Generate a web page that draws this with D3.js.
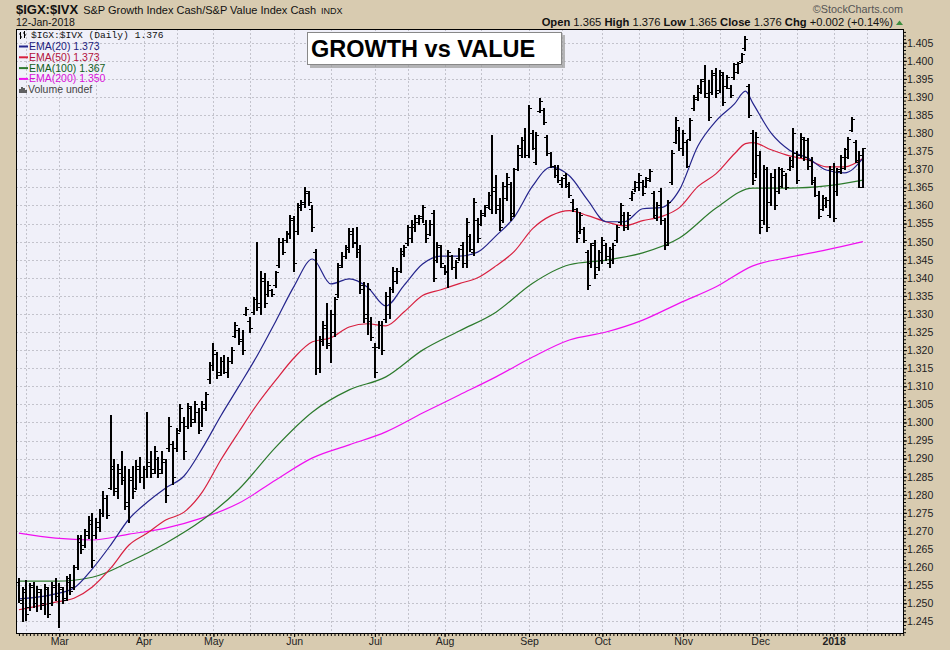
<!DOCTYPE html>
<html><head><meta charset="utf-8">
<script src="https://cdn.jsdelivr.net/npm/d3@7"></script>
<style>
html,body{margin:0;padding:0;background:#d8cbb0;}
svg{display:block;font-family:"Liberation Sans",Arial,sans-serif;}
</style></head><body>
<svg id="c" width="950" height="650"></svg>
<script>
// ---------- DATA ----------
const monthIdx = [11,34,53,75,97,116,139,159,181,202,222];
const monthLabels = ["Mar","Apr","May","Jun","Jul","Aug","Sep","Oct","Nov","Dec","2018"];
const midMonthIdx = [2,21,43,63,85,106,126,148,169,191,212,231];
const yTickLabels = ["1.245","1.250","1.255","1.260","1.265","1.270","1.275","1.280","1.285","1.290","1.295","1.300","1.305","1.310","1.315","1.320","1.325","1.330","1.335","1.340","1.345","1.350","1.355","1.360","1.365","1.370","1.375","1.380","1.385","1.390","1.395","1.400","1.405"];

const highs = [1.2570,1.2545,1.2565,1.2555,1.2560,1.2548,1.2540,1.2552,1.2545,1.2560,
1.2570,1.2555,1.2545,1.2575,1.2580,1.2605,1.2690,1.2690,1.2705,1.2740,
1.2750,1.2735,1.2760,1.2810,1.2800,1.3020,1.2900,1.2885,1.2920,1.2880,
1.2870,1.2880,1.2895,1.2905,1.2880,1.3030,1.2920,1.2935,1.2905,1.2920,
1.2900,1.3015,1.2950,1.2985,1.3050,1.3015,1.3055,1.3045,1.3060,1.3040,
1.3060,1.3085,1.3167,1.3220,1.3195,1.3180,1.3186,1.3180,1.3208,1.3277,
1.3260,1.3255,1.3318,1.3291,1.3347,1.3500,1.3420,1.3413,1.3390,1.3370,
1.3420,1.3510,1.3510,1.3530,1.3573,1.3570,1.3607,1.3615,1.3650,1.3640,
1.3600,1.3480,1.3240,1.3280,1.3330,1.3310,1.3347,1.3440,1.3470,1.3490,
1.3538,1.3538,1.3540,1.3490,1.3388,1.3385,1.3292,1.3220,1.3280,1.3280,
1.3360,1.3375,1.3430,1.3427,1.3482,1.3490,1.3545,1.3560,1.3573,1.3573,
1.3600,1.3560,1.3560,1.3587,1.3500,1.3490,1.3435,1.3477,1.3463,1.3450,
1.3482,1.3500,1.3565,1.3520,1.3622,1.3565,1.3587,1.3600,1.3637,1.3795,
1.3685,1.3620,1.3665,1.3690,1.3665,1.3705,1.3767,1.3790,1.3815,1.3878,
1.3810,1.3803,1.3897,1.3870,1.3795,1.3748,1.3712,1.3712,1.3680,1.3690,
1.3665,1.3617,1.3593,1.3582,1.3540,1.3477,1.3496,1.3505,1.3477,1.3513,
1.3496,1.3485,1.3496,1.3545,1.3607,1.3582,1.3582,1.3640,1.3668,1.3690,
1.3670,1.3678,1.3700,1.3640,1.3609,1.3649,1.3565,1.3615,1.3753,1.3844,
1.3817,1.3810,1.3780,1.3842,1.3905,1.3933,1.3950,1.3988,1.3947,1.3975,
1.3980,1.3975,1.3970,1.3961,1.3933,1.3994,1.3998,1.4022,1.4070,1.3935,
1.3808,1.3803,1.3750,1.3711,1.3707,1.3690,1.3700,1.3707,1.3703,1.3690,
1.3733,1.3815,1.3750,1.3800,1.3790,1.3786,1.3733,1.3678,1.3640,1.3629,
1.3623,1.3710,1.3717,1.3705,1.3740,1.3760,1.3790,1.3845,1.3780,1.3750,
1.3760];

const lows = [1.2503,1.2452,1.2455,1.2480,1.2490,1.2478,1.2485,1.2470,1.2462,1.2495,
1.2510,1.2435,1.2500,1.2510,1.2525,1.2540,1.2595,1.2640,1.2655,1.2680,
1.2600,1.2680,1.2700,1.2740,1.2735,1.2815,1.2800,1.2790,1.2830,1.2760,
1.2725,1.2790,1.2815,1.2835,1.2820,1.2850,1.2850,1.2860,1.2850,1.2860,
1.2780,1.2920,1.2830,1.2920,1.2975,1.2900,1.2985,1.2990,1.3000,1.2970,
1.2990,1.3035,1.3110,1.3145,1.3123,1.3130,1.3137,1.3125,1.3164,1.3235,
1.3218,1.3190,1.3296,1.3250,1.3300,1.3310,1.3300,1.3319,1.3350,1.3350,
1.3375,1.3430,1.3465,1.3500,1.3510,1.3420,1.3520,1.3587,1.3595,1.3600,
1.3530,1.3135,1.3140,1.3215,1.3205,1.3167,1.3240,1.3347,1.3430,1.3455,
1.3470,1.3485,1.3457,1.3357,1.3278,1.3245,1.3228,1.3125,1.3205,1.3190,
1.3277,1.3288,1.3360,1.3385,1.3416,1.3460,1.3490,1.3500,1.3530,1.3550,
1.3555,1.3500,1.3517,1.3390,1.3445,1.3430,1.3410,1.3375,1.3425,1.3400,
1.3450,1.3430,1.3430,1.3475,1.3463,1.3500,1.3545,1.3570,1.3593,1.3578,
1.3578,1.3532,1.3555,1.3615,1.3560,1.3570,1.3698,1.3735,1.3733,1.3733,
1.3755,1.3715,1.3858,1.3825,1.3740,1.3706,1.3678,1.3665,1.3650,1.3650,
1.3623,1.3584,1.3500,1.3525,1.3500,1.3370,1.3430,1.3400,1.3422,1.3441,
1.3450,1.3430,1.3441,1.3500,1.3550,1.3532,1.3535,1.3615,1.3640,1.3642,
1.3628,1.3650,1.3667,1.3568,1.3559,1.3550,1.3480,1.3490,1.3660,1.3772,
1.3753,1.3740,1.3706,1.3781,1.3863,1.3892,1.3910,1.3900,1.3836,1.3909,
1.3900,1.3914,1.3877,1.3925,1.3900,1.3950,1.3965,1.3997,1.4030,1.3845,
1.3660,1.3678,1.3525,1.3550,1.3530,1.3600,1.3590,1.3635,1.3650,1.3645,
1.3698,1.3707,1.3662,1.3735,1.3725,1.3700,1.3660,1.3625,1.3565,1.3587,
1.3595,1.3568,1.3558,1.3630,1.3690,1.3700,1.3730,1.3805,1.3720,1.3650,
1.3650];

const opens = [1.2560,1.2500,1.2540,1.2490,1.2550,1.2500,1.2530,1.2500,1.2540,1.2500,
1.2545,1.2520,1.2540,1.2515,1.2560,1.2545,1.2600,1.2670,1.2660,1.2690,
1.2720,1.2690,1.2710,1.2750,1.2790,1.2820,1.2880,1.2810,1.2860,1.2850,
1.2770,1.2840,1.2820,1.2870,1.2850,1.2870,1.2890,1.2870,1.2900,1.2870,
1.2890,1.2930,1.2940,1.2930,1.2980,1.3000,1.2990,1.3040,1.3010,1.3030,
1.3000,1.3040,1.3120,1.3160,1.3190,1.3140,1.3170,1.3140,1.3170,1.3240,
1.3255,1.3230,1.3300,1.3280,1.3305,1.3340,1.3330,1.3390,1.3355,1.3365,
1.3380,1.3435,1.3500,1.3505,1.3520,1.3560,1.3530,1.3595,1.3605,1.3635,
1.3590,1.3470,1.3150,1.3225,1.3260,1.3220,1.3250,1.3355,1.3435,1.3460,
1.3480,1.3520,1.3500,1.3480,1.3380,1.3300,1.3280,1.3210,1.3210,1.3270,
1.3285,1.3300,1.3370,1.3390,1.3420,1.3465,1.3495,1.3510,1.3540,1.3555,
1.3565,1.3550,1.3520,1.3580,1.3450,1.3485,1.3430,1.3420,1.3460,1.3430,
1.3455,1.3490,1.3440,1.3515,1.3470,1.3560,1.3550,1.3575,1.3600,1.3590,
1.3650,1.3600,1.3560,1.3620,1.3660,1.3580,1.3700,1.3740,1.3780,1.3740,
1.3800,1.3720,1.3860,1.3865,1.3790,1.3745,1.3710,1.3700,1.3660,1.3685,
1.3660,1.3610,1.3590,1.3530,1.3535,1.3470,1.3440,1.3495,1.3430,1.3450,
1.3490,1.3440,1.3450,1.3505,1.3555,1.3575,1.3540,1.3620,1.3645,1.3650,
1.3665,1.3655,1.3670,1.3635,1.3565,1.3640,1.3560,1.3500,1.3665,1.3775,
1.3810,1.3760,1.3775,1.3785,1.3870,1.3895,1.3915,1.3950,1.3900,1.3915,
1.3960,1.3920,1.3960,1.3930,1.3925,1.3955,1.3970,1.4000,1.4035,1.3930,
1.3800,1.3690,1.3740,1.3560,1.3700,1.3610,1.3680,1.3640,1.3655,1.3685,
1.3700,1.3710,1.3745,1.3740,1.3785,1.3780,1.3725,1.3670,1.3630,1.3590,
1.3600,1.3575,1.3700,1.3640,1.3695,1.3705,1.3735,1.3810,1.3775,1.3720,
1.3650];

const closes = [1.2510,1.2530,1.2470,1.2545,1.2500,1.2540,1.2495,1.2545,1.2470,1.2550,
1.2520,1.2545,1.2510,1.2570,1.2535,1.2600,1.2680,1.2650,1.2700,1.2730,
1.2620,1.2725,1.2750,1.2790,1.2745,1.2870,1.2820,1.2870,1.2840,1.2780,
1.2850,1.2810,1.2880,1.2850,1.2870,1.2880,1.2860,1.2920,1.2860,1.2900,
1.2800,1.2990,1.2850,1.2970,1.3040,1.2920,1.3045,1.3000,1.3050,1.2980,
1.3050,1.3080,1.3160,1.3200,1.3130,1.3170,1.3140,1.3170,1.3200,1.3270,
1.3225,1.3200,1.3315,1.3260,1.3340,1.3320,1.3400,1.3330,1.3380,1.3355,
1.3415,1.3500,1.3470,1.3525,1.3565,1.3440,1.3600,1.3610,1.3640,1.3610,
1.3540,1.3150,1.3230,1.3270,1.3215,1.3300,1.3340,1.3430,1.3460,1.3485,
1.3530,1.3495,1.3470,1.3370,1.3290,1.3370,1.3235,1.3140,1.3270,1.3200,
1.3350,1.3370,1.3420,1.3420,1.3475,1.3485,1.3540,1.3550,1.3565,1.3570,
1.3595,1.3510,1.3550,1.3400,1.3490,1.3440,1.3415,1.3470,1.3430,1.3445,
1.3480,1.3440,1.3555,1.3480,1.3610,1.3510,1.3580,1.3595,1.3630,1.3640,
1.3590,1.3540,1.3655,1.3680,1.3570,1.3700,1.3760,1.3780,1.3740,1.3870,
1.3760,1.3795,1.3890,1.3830,1.3745,1.3710,1.3685,1.3670,1.3675,1.3655,
1.3630,1.3590,1.3510,1.3575,1.3505,1.3380,1.3490,1.3410,1.3470,1.3505,
1.3460,1.3480,1.3490,1.3540,1.3600,1.3540,1.3575,1.3635,1.3665,1.3685,
1.3635,1.3675,1.3695,1.3575,1.3600,1.3560,1.3490,1.3610,1.3745,1.3835,
1.3760,1.3800,1.3710,1.3835,1.3900,1.3925,1.3945,1.3910,1.3845,1.3965,
1.3910,1.3970,1.3885,1.3955,1.3905,1.3990,1.3995,1.4020,1.4060,1.3850,
1.3670,1.3790,1.3540,1.3700,1.3540,1.3680,1.3600,1.3700,1.3695,1.3650,
1.3725,1.3800,1.3670,1.3790,1.3735,1.3710,1.3665,1.3630,1.3570,1.3620,
1.3615,1.3700,1.3565,1.3700,1.3735,1.3755,1.3785,1.3840,1.3725,1.3740,
1.3760];

// EMA readings (bar index -> value)
const emaIdxShort = [0,5,10,15,20,25,30,35,40,45,50,55,60,65,70,75,80,85,90,95,100,105,110,115,120,125,130,135,140,145,150,155,160,165,170,175,180,185,190,195,198,200,205,210,215,220,225,230];
const ema20 = [1.2512,1.2517,1.2526,1.2542,1.2595,1.2661,1.2733,1.2780,1.2819,1.2852,1.2929,1.3018,1.3101,1.3186,1.3280,1.3377,1.3452,1.3383,1.3397,1.3374,1.3322,1.3380,1.3438,1.3460,1.3460,1.3471,1.3516,1.3568,1.3654,1.3706,1.3682,1.3615,1.3555,1.3555,1.3591,1.3594,1.3643,1.3764,1.3834,1.3881,1.3916,1.3883,1.3800,1.3753,1.3731,1.3698,1.3690,1.3730];
const ema50 = [1.2482,1.2492,1.2503,1.2514,1.2545,1.2597,1.2661,1.2694,1.2730,1.2752,1.2808,1.2896,1.2975,1.3051,1.3117,1.3179,1.3223,1.3234,1.3264,1.3273,1.3267,1.3306,1.3351,1.3367,1.3384,1.3400,1.3433,1.3473,1.3536,1.3572,1.3586,1.3572,1.3555,1.3544,1.3558,1.3569,1.3594,1.3652,1.3688,1.3743,1.3771,1.3774,1.3754,1.3737,1.3726,1.3707,1.3707,1.3730];
const emaIdxLong = [0,10,20,30,40,50,60,70,80,90,100,110,120,130,140,150,160,170,180,190,200,210,220,230];
const ema100 = [1.2561,1.2561,1.2572,1.2614,1.2666,1.2730,1.2816,1.2932,1.3029,1.3090,1.3126,1.3200,1.3253,1.3305,1.3385,1.3436,1.3449,1.3469,1.3510,1.3593,1.3648,1.3648,1.3654,1.3670];
const ema200 = [1.2694,1.2680,1.2675,1.2691,1.2708,1.2736,1.2777,1.2841,1.2902,1.2938,1.2974,1.3026,1.3076,1.3126,1.3181,1.3228,1.3250,1.3283,1.3330,1.3375,1.3433,1.3457,1.3477,1.3500];

// ---------- CHART ----------
const W=950,H=650;
const P={l:16,t:29,r:904,b:634};
const n=highs.length;
const svg=d3.select('#c');
svg.append('rect').attr('width',W).attr('height',H).attr('fill','#d8cbb0');

const x=d3.scaleLinear().domain([-0.8,n-1+11.2]).range([P.l,P.r]);
const y=d3.scaleLinear().domain([1.2415,1.4088]).range([P.b,P.t]);
const yTicks=yTickLabels.map(Number);

svg.append('rect').attr('x',P.l).attr('y',P.t).attr('width',P.r-P.l).attr('height',P.b-P.t).attr('fill','#f0f0f9');

const grid=svg.append('g').attr('stroke','#c3c3cc').attr('stroke-width',1).attr('stroke-dasharray','2,2').attr('shape-rendering','crispEdges');
grid.selectAll('line.h').data(yTicks).join('line')
  .attr('x1',P.l).attr('x2',P.r).attr('y1',d=>Math.round(y(d))+0.5).attr('y2',d=>Math.round(y(d))+0.5);
grid.selectAll('line.v').data(monthIdx.concat(midMonthIdx)).join('line')
  .attr('y1',P.t).attr('y2',P.b).attr('x1',d=>Math.round(x(d))+0.5).attr('x2',d=>Math.round(x(d))+0.5);

// EMA lines
const lineFor=(idx)=>d3.line().x((d,i)=>x(idx[i])).y(d=>y(d)).curve(d3.curveMonotoneX);
const emaSpecs=[
  {vals:ema200,idx:emaIdxLong,color:'#f010f0'},
  {vals:ema100,idx:emaIdxLong,color:'#2c7a2c'},
  {vals:ema50,idx:emaIdxShort,color:'#d8203f'},
  {vals:ema20,idx:emaIdxShort,color:'#24248c'}
];
emaSpecs.forEach(s=>{
  svg.append('path').attr('d',lineFor(s.idx)(s.vals)).attr('fill','none').attr('stroke',s.color).attr('stroke-width',1.2);
});

// OHLC bars (pixel-snapped, crisp)
const bars=svg.append('g').attr('fill','#000').attr('shape-rendering','crispEdges');
const idx=d3.range(n);
const bx=i=>Math.round(x(i));
bars.selectAll('rect.hl').data(idx).join('rect')
  .attr('x',i=>bx(i)-1).attr('width',2)
  .attr('y',i=>Math.round(y(highs[i]))).attr('height',i=>Math.max(2,Math.round(y(lows[i]))-Math.round(y(highs[i]))+1));
bars.selectAll('rect.o').data(idx).join('rect')
  .attr('x',i=>bx(i)-3).attr('width',2).attr('y',i=>Math.round(y(opens[i]))).attr('height',1.4);
bars.selectAll('rect.c').data(idx).join('rect')
  .attr('x',i=>bx(i)+1).attr('width',2).attr('y',i=>Math.round(y(closes[i]))).attr('height',1.4);

// border
svg.append('rect').attr('x',P.l+0.5).attr('y',P.t+0.5).attr('width',P.r-P.l-1).attr('height',P.b-P.t-1)
  .attr('fill','none').attr('stroke','#000').attr('stroke-width',1);

// right axis
const minorY=d3.range(1.242,1.4085,0.001);
const ay2=svg.append('g').attr('transform',`translate(${P.r},0)`).call(d3.axisRight(y).tickValues(minorY).tickSize(2).tickFormat(''));
ay2.select('.domain').remove();
const ay=svg.append('g').attr('transform',`translate(${P.r},0)`)
  .call(d3.axisRight(y).tickValues(yTicks).tickSize(3).tickPadding(0).tickFormat((d,i)=>yTickLabels[i]));
ay.select('.domain').remove();
ay.selectAll('text').attr('font-size','10.5px').attr('fill','#222').attr('font-family','"Liberation Sans",Arial,sans-serif');
[ay,ay2].forEach(a=>a.selectAll('line').attr('stroke','#000'));

// bottom axis
const ax2=svg.append('g').attr('transform',`translate(0,${P.b})`).call(d3.axisBottom(x).tickValues(d3.range(0,n+11)).tickSize(2).tickFormat(''));
ax2.select('.domain').remove();
ax2.selectAll('line').attr('stroke','#000');
const ax=svg.append('g').attr('transform',`translate(0,${P.b})`)
  .call(d3.axisBottom(x).tickValues(monthIdx).tickSize(3).tickPadding(1).tickFormat((d,i)=>monthLabels[i]));
ax.select('.domain').remove();
ax.selectAll('line').attr('stroke','#000');
ax.selectAll('text').attr('font-size','10.5px').attr('fill','#222').attr('font-family','"Liberation Sans",Arial,sans-serif')
  .attr('font-weight',(d,i)=>monthLabels[i]==='2018'?'bold':'normal');

// header
const fmt=d3.format('.3f');
const last=n-1;
const hdr=svg.append('text').attr('x',16).attr('y',13.5).attr('fill','#111');
hdr.append('tspan').attr('font-weight','bold').attr('font-size','13px').text('$IGX:$IVX');
hdr.append('tspan').attr('font-size','11px').attr('dx',5).text('S&P Growth Index Cash/S&P Value Index Cash');
hdr.append('tspan').attr('font-size','9px').attr('dx',5).text('INDX');
svg.append('text').attr('x',16).attr('y',26).attr('font-size','10.5px').attr('fill','#111').text('12-Jan-2018');
svg.append('text').attr('x',903).attr('y',13).attr('text-anchor','end').attr('font-size','10.8px').attr('fill','#555').text('\u00A9StockCharts.com');

const ohlc=svg.append('text').attr('x',893).attr('y',26).attr('text-anchor','end').attr('font-size','11.2px').attr('fill','#111');
[['Open',opens[last]],['High',highs[last]],['Low',lows[last]],['Close',closes[last]]].forEach(([k,v])=>{
  ohlc.append('tspan').attr('font-weight','bold').text(k+' ');
  ohlc.append('tspan').text(fmt(v)+'  ');
});
ohlc.append('tspan').attr('font-weight','bold').text('Chg ');
ohlc.append('tspan').text('+0.002 (+0.14%)');
svg.append('path').attr('d','M896,25 L899.5,20.5 L903,25 Z').attr('fill','#3c8c3c');

// legend
const lg=svg.append('g');
lg.append('path').attr('d','M20.5,32 V39 M19,34 H20.5 M20.5,37 H22 M24.5,31 V38 M23,33 H24.5 M24.5,35 H26').attr('stroke','#000').attr('stroke-width',1);
lg.append('text').attr('x',31).attr('y',38).attr('font-family','"Liberation Mono","DejaVu Sans Mono",monospace').attr('font-size','9.6px').attr('fill','#111')
  .text(`$IGX:$IVX (Daily) ${fmt(closes[last])}`);
const legendItems=[
  {label:'EMA(20)',vals:ema20,color:'#1c1c7c',line:'#24248c'},
  {label:'EMA(50)',vals:ema50,color:'#b3123c',line:'#d8203f'},
  {label:'EMA(100)',vals:ema100,color:'#13601a',line:'#2c7a2c'},
  {label:'EMA(200)',vals:ema200,color:'#d812d8',line:'#f010f0'}
];
legendItems.forEach((d,i)=>{
  const yy=50+i*10.8;
  lg.append('line').attr('x1',19).attr('x2',28).attr('y1',yy-3.5).attr('y2',yy-3.5).attr('stroke',d.line).attr('stroke-width',2);
  lg.append('text').attr('x',29).attr('y',yy).attr('font-size','10.5px').attr('fill',d.color).text(`${d.label} ${fmt(d.vals[d.vals.length-1])}`);
});
lg.append('path').attr('d','M20,93 V89 M22,93 V87 M24,93 V88 M26,93 V90').attr('stroke','#222').attr('stroke-width',1.4);
lg.append('text').attr('x',28).attr('y',93.2).attr('font-size','10.5px').attr('fill','#444').text('Volume undef');

// title box
svg.append('rect').attr('x',310).attr('y',35).attr('width',255).attr('height',33).attr('fill','#9a9a9a').attr('opacity',0.7);
svg.append('rect').attr('x',307.5).attr('y',32.5).attr('width',254).attr('height',32).attr('fill','#fff').attr('stroke','#888');
svg.append('text').attr('x',311).attr('y',57).attr('font-size','23.5px').attr('font-weight','bold').attr('fill','#000').text('GROWTH vs VALUE');
</script>
</body></html>
